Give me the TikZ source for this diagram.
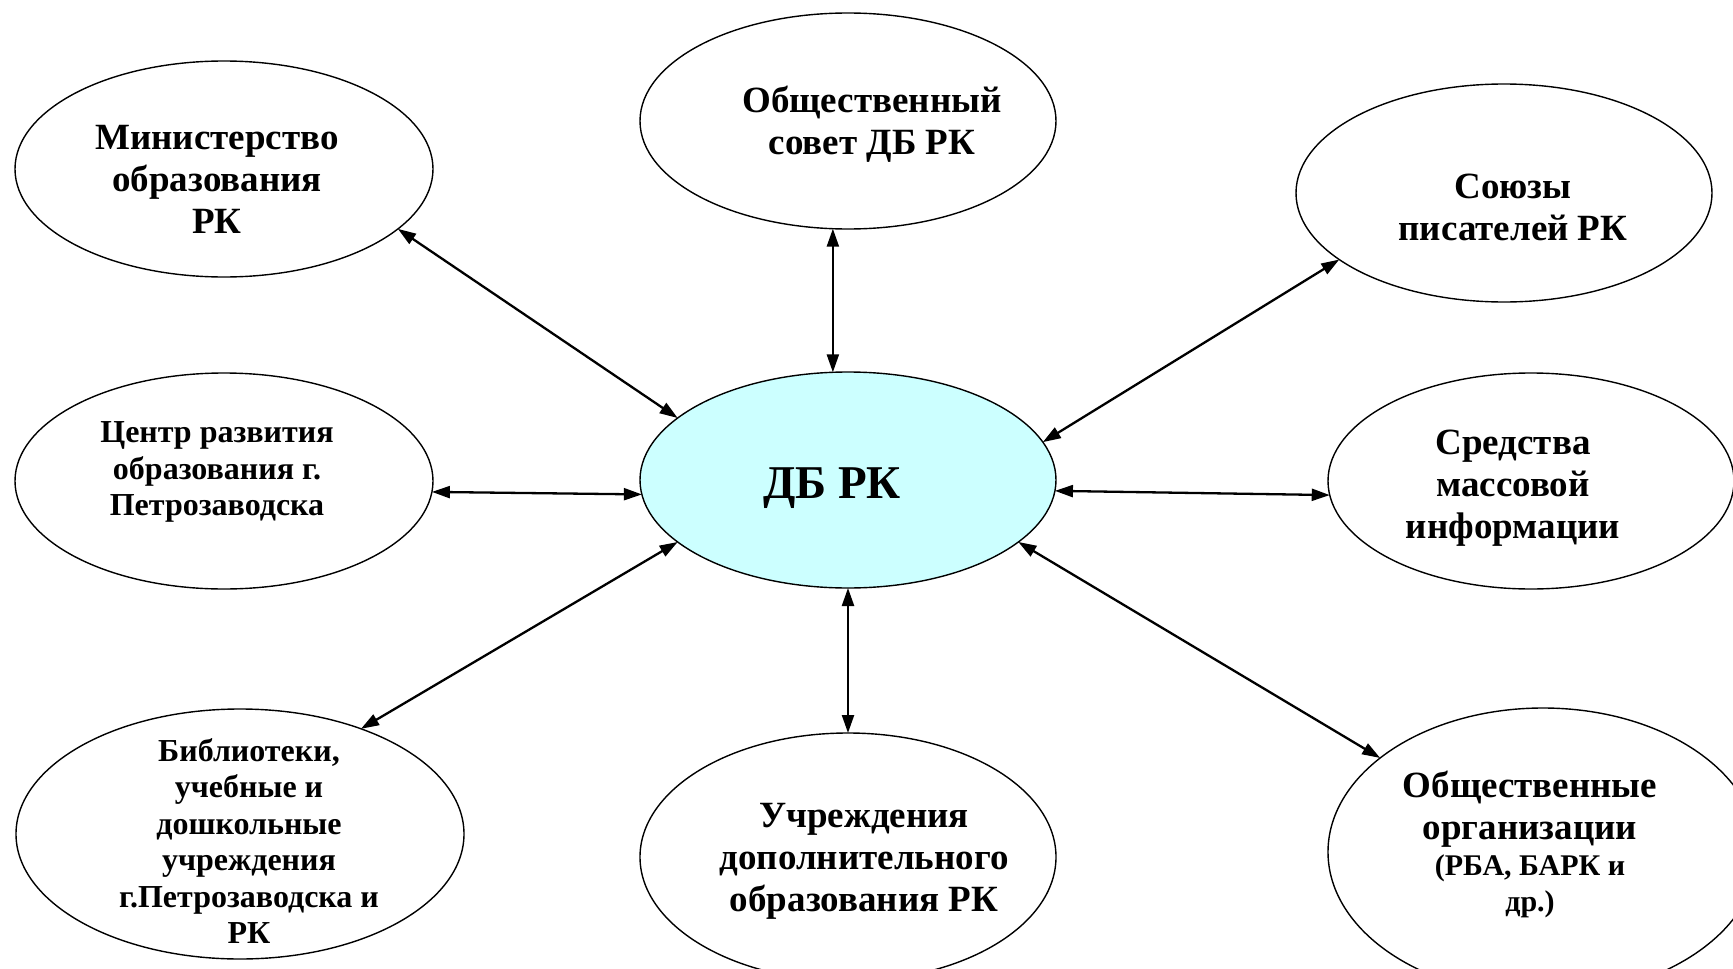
\documentclass[tikz,border=0pt]{standalone}
\usepackage{fontspec}
\setmainfont{Liberation Serif}
\usetikzlibrary{shapes.geometric,arrows.meta}
\definecolor{dbfill}{RGB}{204,255,255}
\tikzset{
  oval/.style={ellipse,draw=black,line width=1.4pt,inner sep=0pt,outer sep=0pt,fill=white},
  txt/.style={align=center,font=\bfseries\fontsize{37}{42}\selectfont,inner sep=0pt},
  smalltxt/.style={align=center,font=\bfseries\fontsize{32}{36.5}\selectfont,inner sep=0pt},
  link/.style={line width=2.3pt,{Triangle[length=18pt,width=12pt]}-{Triangle[length=18pt,width=12pt]}}
}
\begin{document}
\begin{tikzpicture}[x=1pt,y=-1pt]
\useasboundingbox (0,0) rectangle (1733,969);
\clip (0,0) rectangle (1733,969);
% ellipses
\node[oval,minimum width=418pt,minimum height=216pt] (min) at (224,169) {};
\node[oval,minimum width=416pt,minimum height=216pt] (sov) at (848,121) {};
\node[oval,minimum width=416pt,minimum height=218pt] (soy) at (1504,193) {};
\node[oval,minimum width=418pt,minimum height=216pt] (cen) at (224,481) {};
\node[oval,fill=dbfill,minimum width=416pt,minimum height=216pt] (db) at (848,480) {};
\node[oval,minimum width=406pt,minimum height=216pt] (sred) at (1531,481) {};
\node[oval,minimum width=448pt,minimum height=250pt] (bib) at (240,834) {};
\node[oval,minimum width=416pt,minimum height=248pt] (uch) at (848,857) {};
\node[oval,minimum width=430pt,minimum height=288pt] (obs) at (1543,852) {};
% texts
\node[txt] (mint) at (217,179) {Министерство\\образования\\РК};
\node[txt] (sovt) at (872,124) {Общественный\\совет ДБ РК};
\node[txt] (soyt) at (1513,207) {Союзы\\писателей РК};
\node[smalltxt] (cent) at (217,472) {Центр развития\\образования г.\\Петрозаводска};
\node[inner sep=0pt,font=\bfseries\fontsize{47}{50}\selectfont] (dbt) at (832,488) {ДБ РК};
\node[txt] (sredt) at (1513,488) {Средства\\массовой\\информации};
\node[smalltxt] (bibt) at (249,841) {Библиотеки,\\учебные и\\дошкольные\\учреждения\\г.Петрозаводска и\\РК};
\node[txt] (ucht) at (864,861) {Учреждения\\дополнительного\\образования РК};
\node[txt] (obst1) at (1530,809) {Общественные\\организации};
\node[smalltxt,font=\bfseries\fontsize{30}{36}\selectfont] (obst2) at (1530,886) {(РБА, БАРК и\\др.)};
% connectors
\draw[link] (min.-19.3) -- (db.160.2);
\draw[link] (sov.-98.2) -- (db.98.4);
\draw[link] (soy.-158.9) -- (db.11.25);
\draw[link] (cen.-3.0) -- (db.-176.4);
\draw[link] (db.-3.6) -- (sred.-176.6);
\draw[link] (db.-160.6) -- (bib.41.2);
\draw[link] (db.-90.3) -- (uch.90.3);
\draw[link] (db.-20.9) -- (obs.150.9);
\end{tikzpicture}
\end{document}
